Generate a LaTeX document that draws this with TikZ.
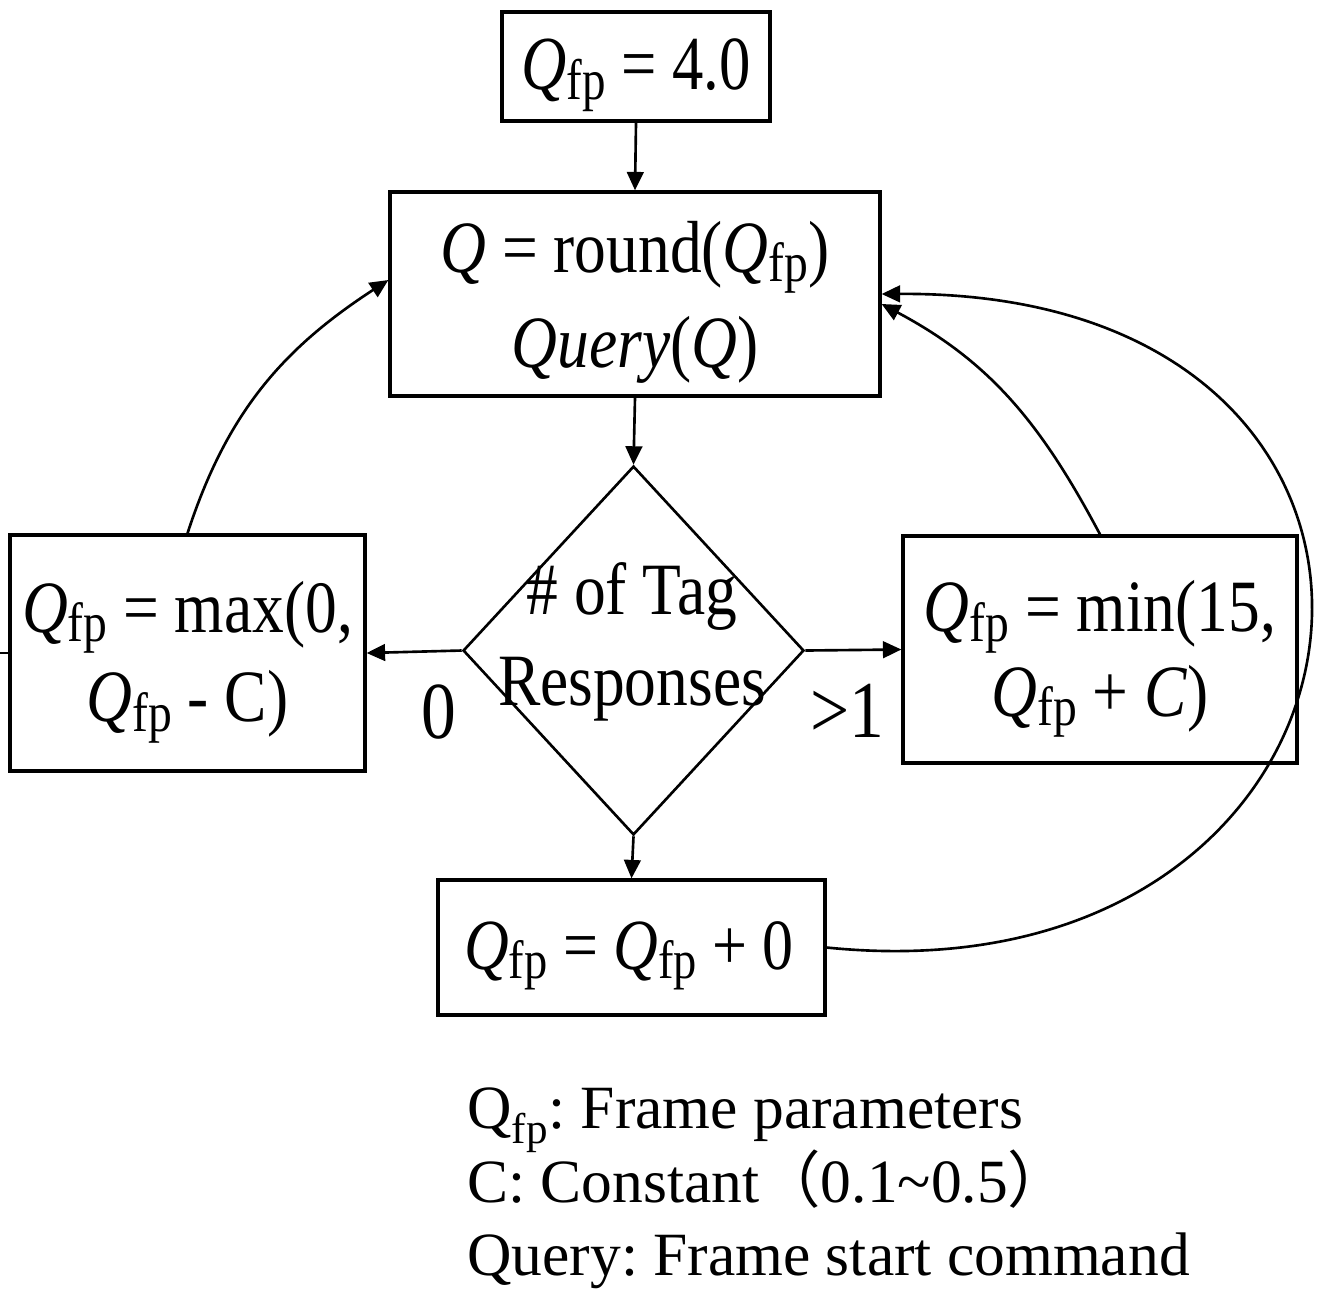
\documentclass[tikz,border=0pt]{standalone}
\usepackage{fontspec}
\usepackage{graphicx}
\setmainfont{Liberation Serif}
\newfontfamily\nf[FakeStretch=0.86]{Liberation Serif}
\newfontfamily\nft[FakeStretch=0.82]{Liberation Serif}
\newfontfamily\cjkf{Noto Sans CJK SC}
\usetikzlibrary{shapes.geometric,arrows.meta,calc}
\newcommand\Qf{\textit{Q}\raisebox{-0.28ex}{\scalebox{0.75}{fp}}}
\begin{document}
\frenchspacing
\begin{tikzpicture}[x=0.02cm,y=-0.02cm,
  box/.style={draw, line width=1.9pt, inner sep=0pt},
  txt/.style={inner sep=0pt, align=center},
  conn/.style={line width=1.5pt, -{Triangle[length=10.5pt,width=9.5pt]}},
  mfont/.style={font=\nf\fontsize{42}{#1}\selectfont},
  lab/.style={font=\nf\fontsize{46}{50}\selectfont, inner sep=0pt},
  leg/.style={font=\fontsize{35}{40}\selectfont, anchor=base west, inner sep=0pt}]
\useasboundingbox (0,0) rectangle (1344,1296);

% boxes
\node[box, minimum width=5.36cm, minimum height=2.18cm] (top) at (636,66.5) {};
\node[box, minimum width=9.8cm, minimum height=4.08cm] (box2) at (635,294) {};
\node[draw, shape=diamond, line width=1.5pt, inner sep=0pt, minimum width=6.82cm, minimum height=7.38cm] (dia) at (633.5,650.5) {};
\node[box, minimum width=7.1cm, minimum height=4.72cm] (lb) at (187.5,653) {};
\node[box, minimum width=7.88cm, minimum height=4.54cm] (rb) at (1100,649.5) {};
\node[box, minimum width=7.74cm, minimum height=2.7cm] (bot) at (631.5,947.5) {};

% texts
\node[txt, font=\nft\fontsize{43.5}{50}\selectfont] (topt) at (636,75) {\Qf{} = 4.0};
\node[txt, mfont=54pt] (box2t) at (635,302) {\textit{Q} = round(\Qf)\\\textit{Query}(\textit{Q})};
\node[txt, font=\nf\fontsize{42}{52}\selectfont] (dtxt) at (632,642) {\# of Tag\\Responses};
\node[txt, mfont=51pt] (lbt) at (187.5,662) {\Qf{} = max(0,\\\Qf{} - C)};
\node[txt, mfont=48pt] (rbt) at (1100,659) {\Qf{} = min(15,\\\Qf{} + \textit{C})};
\node[txt, font=\nf\fontsize{41}{50}\selectfont] (bott) at (629,956) {\Qf{} = \Qf{} + 0};

\node[lab] (l0) at (439,712) {0};
\node[lab] (l1) at (847,711) {>1};

\node[leg] (lg1) at (467,1128) {Q\textsubscript{fp}: Frame parameters};
\node[leg] (lg2) at (467,1202) {C: Constant{\cjkf （}0.1\textasciitilde 0.5{\cjkf ）}};
\node[leg] (lg3) at (467,1275) {Query: Frame start command};

% connectors
\draw[conn] (top.south) -- (box2.north);
\draw[conn] (box2.south) -- (dia.north);
\draw[conn] (dia.south) -- (bot.north);
\draw[conn] (dia.west) -- (lb.east);
\draw[conn] (dia.east) -- (rb.west);
\draw[conn] (lb.north) to[out=72,in=213] ([yshift=0.28cm]box2.west);
\draw[conn] (rb.north) to[out=118,in=-28] ([yshift=-0.2cm]box2.east);
\draw[conn] (bot.east) .. controls ($(bot.east)+(590,60)$) and ($(box2.east)+(620,-4)$) .. (box2.east);
\coordinate (lstub) at (0,653);
\draw[line width=1.5pt] (lb.west) -- (lstub);
\end{tikzpicture}
\end{document}
